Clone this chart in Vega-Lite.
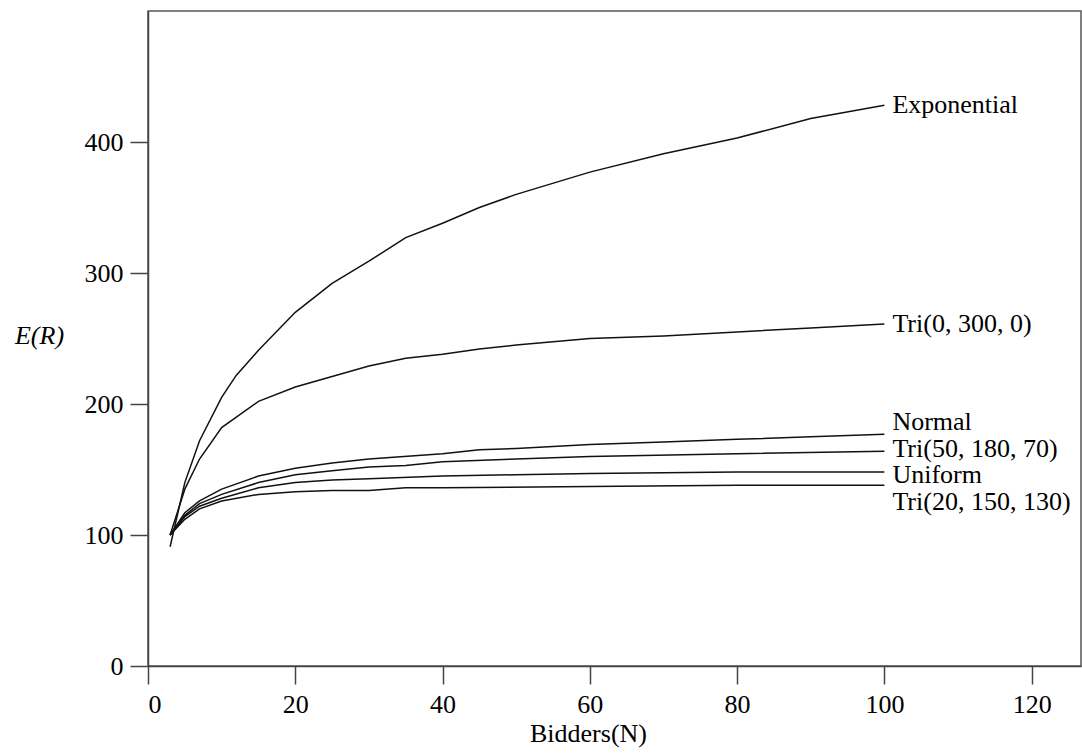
{
  "$schema": "https://vega.github.io/schema/vega-lite/v6.json",
  "autosize": "none",
  "padding": {"left": 148, "top": 11, "right": 1, "bottom": 88},
  "width": 933,
  "height": 655,
  "background": "white",
  "config": {
    "view": {"stroke": "#555", "strokeWidth": 1.5},
    "font": "Liberation Serif",
    "axis": {
      "grid": false,
      "domainColor": "#444",
      "domainWidth": 1.5,
      "tickColor": "#444",
      "tickWidth": 1.5,
      "tickSize": 18,
      "labelFont": "Liberation Serif",
      "labelFontSize": 26,
      "labelColor": "#000",
      "labelPadding": 7,
      "titleFont": "Liberation Serif",
      "titleFontSize": 26,
      "titleFontWeight": "normal",
      "titleColor": "#000"
    }
  },
  "datasets": {
    "curves": [
      {"series": "Exponential", "N": 3, "ER": 91},
      {"series": "Exponential", "N": 5, "ER": 140},
      {"series": "Exponential", "N": 7, "ER": 172},
      {"series": "Exponential", "N": 10, "ER": 205},
      {"series": "Exponential", "N": 12, "ER": 222},
      {"series": "Exponential", "N": 15, "ER": 241},
      {"series": "Exponential", "N": 20, "ER": 270},
      {"series": "Exponential", "N": 25, "ER": 292},
      {"series": "Exponential", "N": 30, "ER": 309},
      {"series": "Exponential", "N": 35, "ER": 327},
      {"series": "Exponential", "N": 40, "ER": 338},
      {"series": "Exponential", "N": 45, "ER": 350},
      {"series": "Exponential", "N": 50, "ER": 360},
      {"series": "Exponential", "N": 60, "ER": 377},
      {"series": "Exponential", "N": 70, "ER": 391},
      {"series": "Exponential", "N": 80, "ER": 403},
      {"series": "Exponential", "N": 90, "ER": 418},
      {"series": "Exponential", "N": 100, "ER": 428},
      {"series": "Tri0", "N": 3, "ER": 100},
      {"series": "Tri0", "N": 5, "ER": 135},
      {"series": "Tri0", "N": 7, "ER": 158},
      {"series": "Tri0", "N": 10, "ER": 182},
      {"series": "Tri0", "N": 15, "ER": 202},
      {"series": "Tri0", "N": 20, "ER": 213},
      {"series": "Tri0", "N": 25, "ER": 221},
      {"series": "Tri0", "N": 30, "ER": 229},
      {"series": "Tri0", "N": 35, "ER": 235},
      {"series": "Tri0", "N": 40, "ER": 238},
      {"series": "Tri0", "N": 45, "ER": 242},
      {"series": "Tri0", "N": 50, "ER": 245},
      {"series": "Tri0", "N": 60, "ER": 250},
      {"series": "Tri0", "N": 70, "ER": 252},
      {"series": "Tri0", "N": 80, "ER": 255},
      {"series": "Tri0", "N": 90, "ER": 258},
      {"series": "Tri0", "N": 100, "ER": 261},
      {"series": "Normal", "N": 3, "ER": 100},
      {"series": "Normal", "N": 5, "ER": 117},
      {"series": "Normal", "N": 7, "ER": 126},
      {"series": "Normal", "N": 10, "ER": 135},
      {"series": "Normal", "N": 15, "ER": 145},
      {"series": "Normal", "N": 20, "ER": 151},
      {"series": "Normal", "N": 25, "ER": 155},
      {"series": "Normal", "N": 30, "ER": 158},
      {"series": "Normal", "N": 40, "ER": 162},
      {"series": "Normal", "N": 45, "ER": 165},
      {"series": "Normal", "N": 50, "ER": 166},
      {"series": "Normal", "N": 60, "ER": 169},
      {"series": "Normal", "N": 70, "ER": 171},
      {"series": "Normal", "N": 80, "ER": 173},
      {"series": "Normal", "N": 90, "ER": 175},
      {"series": "Normal", "N": 100, "ER": 177},
      {"series": "Tri50", "N": 3, "ER": 100},
      {"series": "Tri50", "N": 5, "ER": 115},
      {"series": "Tri50", "N": 7, "ER": 124},
      {"series": "Tri50", "N": 10, "ER": 131},
      {"series": "Tri50", "N": 15, "ER": 140},
      {"series": "Tri50", "N": 20, "ER": 146},
      {"series": "Tri50", "N": 25, "ER": 149},
      {"series": "Tri50", "N": 30, "ER": 152},
      {"series": "Tri50", "N": 35, "ER": 153},
      {"series": "Tri50", "N": 40, "ER": 156},
      {"series": "Tri50", "N": 50, "ER": 158},
      {"series": "Tri50", "N": 60, "ER": 160},
      {"series": "Tri50", "N": 80, "ER": 162},
      {"series": "Tri50", "N": 100, "ER": 164},
      {"series": "Uniform", "N": 3, "ER": 100},
      {"series": "Uniform", "N": 5, "ER": 114},
      {"series": "Uniform", "N": 7, "ER": 122},
      {"series": "Uniform", "N": 10, "ER": 128},
      {"series": "Uniform", "N": 15, "ER": 136},
      {"series": "Uniform", "N": 20, "ER": 140},
      {"series": "Uniform", "N": 25, "ER": 142},
      {"series": "Uniform", "N": 30, "ER": 143},
      {"series": "Uniform", "N": 40, "ER": 145},
      {"series": "Uniform", "N": 50, "ER": 146},
      {"series": "Uniform", "N": 60, "ER": 147},
      {"series": "Uniform", "N": 80, "ER": 148},
      {"series": "Uniform", "N": 100, "ER": 148},
      {"series": "Tri20", "N": 3, "ER": 100},
      {"series": "Tri20", "N": 5, "ER": 112},
      {"series": "Tri20", "N": 7, "ER": 120},
      {"series": "Tri20", "N": 10, "ER": 126},
      {"series": "Tri20", "N": 15, "ER": 131},
      {"series": "Tri20", "N": 20, "ER": 133},
      {"series": "Tri20", "N": 25, "ER": 134},
      {"series": "Tri20", "N": 30, "ER": 134},
      {"series": "Tri20", "N": 35, "ER": 136},
      {"series": "Tri20", "N": 40, "ER": 136},
      {"series": "Tri20", "N": 60, "ER": 137},
      {"series": "Tri20", "N": 80, "ER": 138},
      {"series": "Tri20", "N": 100, "ER": 138}
    ],
    "labels": [
      {"label": "Exponential", "N": 100, "ER": 428},
      {"label": "Tri(0, 300, 0)", "N": 100, "ER": 261},
      {"label": "Normal", "N": 100, "ER": 186.5},
      {"label": "Tri(50, 180, 70)", "N": 100, "ER": 165.5},
      {"label": "Uniform", "N": 100, "ER": 146},
      {"label": "Tri(20, 150, 130)", "N": 100, "ER": 125.5}
    ]
  },
  "layer": [
    {
      "data": {"name": "curves"},
      "mark": {"type": "line", "color": "#111", "strokeWidth": 1.5},
      "encoding": {
        "x": {
          "field": "N", "type": "quantitative",
          "scale": {"domain": [0, 126.7], "nice": false, "zero": false},
          "axis": {
            "values": [0, 20, 40, 60, 80, 100, 120],
            "title": "Bidders(N)",
            "titleX": 440,
            "titleY": 67,
            "titleBaseline": "middle",
            "titleAnchor": "middle",
            "titleAlign": "center"
          }
        },
        "y": {
          "field": "ER", "type": "quantitative",
          "scale": {"domain": [0, 500], "nice": false},
          "axis": {
            "values": [0, 100, 200, 300, 400],
            "title": "E(R)",
            "titleAngle": 0,
            "titleFontStyle": "italic",
            "titleX": -109,
            "titleY": 324,
            "titleAlign": "center",
            "titleBaseline": "middle"
          }
        },
        "detail": {"field": "series"},
        "order": {"field": "N", "type": "quantitative"}
      }
    },
    {
      "data": {"name": "labels"},
      "mark": {"type": "text", "align": "left", "baseline": "middle", "dx": 8, "font": "Liberation Serif", "fontSize": 26, "color": "#000"},
      "encoding": {
        "x": {"field": "N", "type": "quantitative"},
        "y": {"field": "ER", "type": "quantitative"},
        "text": {"field": "label"}
      }
    }
  ]
}
